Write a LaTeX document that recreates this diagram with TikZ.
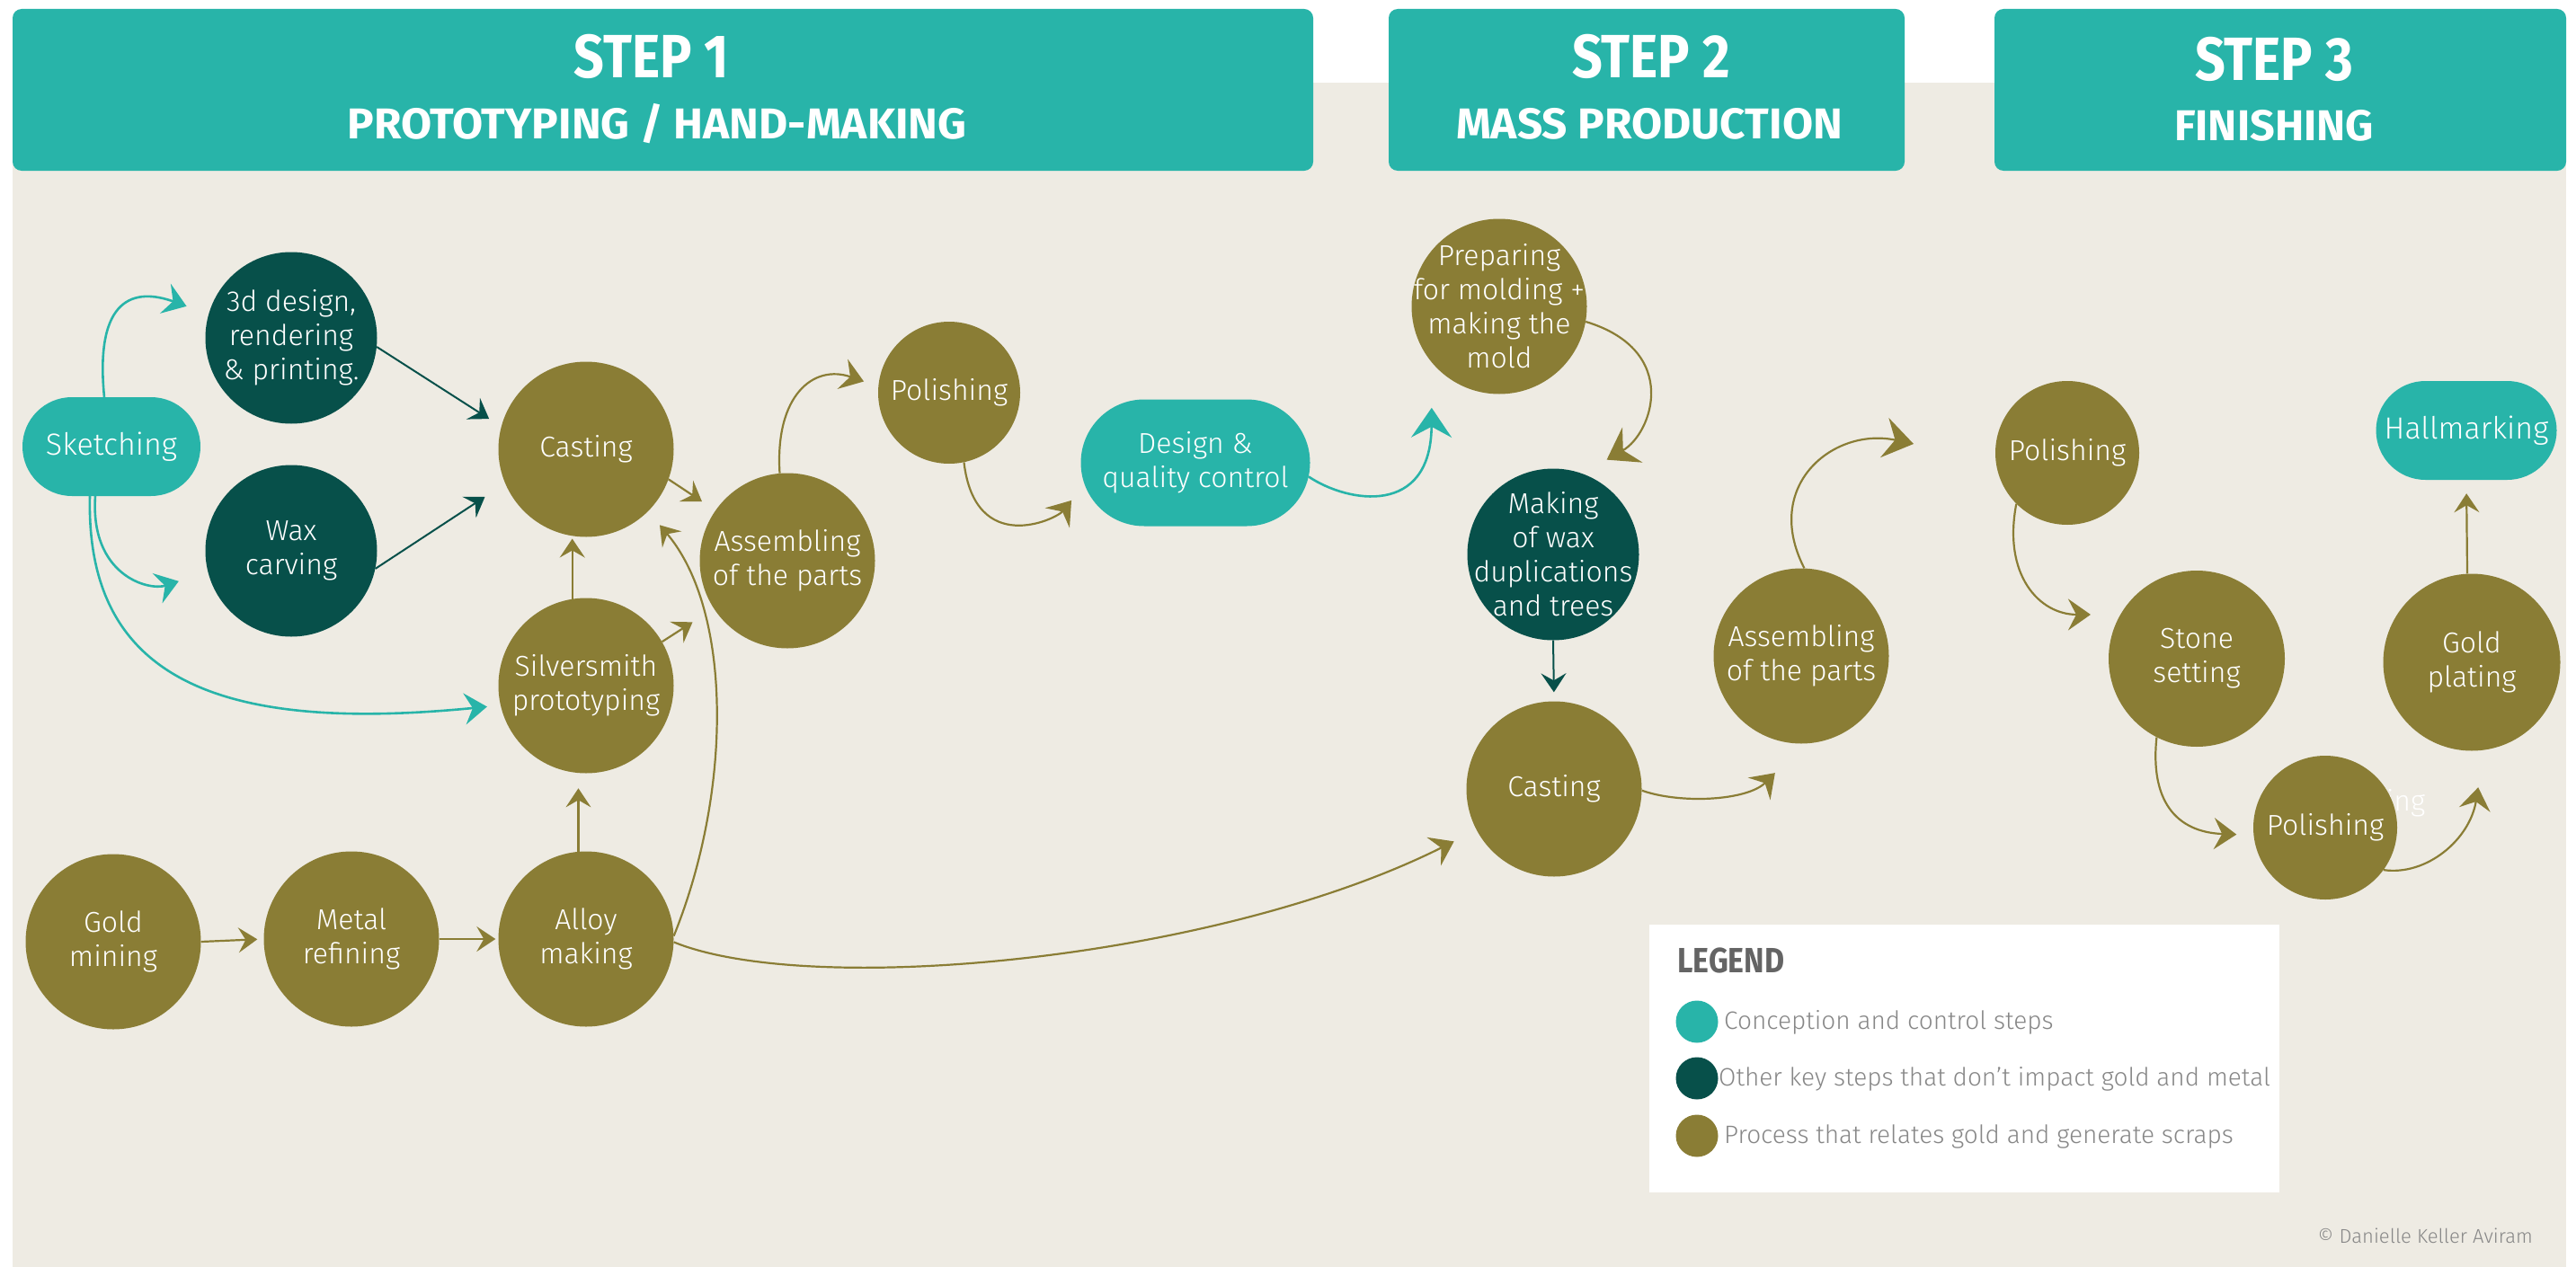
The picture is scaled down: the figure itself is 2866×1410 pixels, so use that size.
\documentclass[tikz,border=0pt]{standalone}
\usepackage{fontspec}
\setmainfont{Fira Sans}
\newfontfamily\lightfont{Fira Sans Light}
\usetikzlibrary{arrows.meta,shapes.misc}

\definecolor{cteal}{RGB}{40,180,169}
\definecolor{cdark}{RGB}{7,80,74}
\definecolor{colive}{RGB}{138,125,53}
\definecolor{cbeige}{RGB}{238,235,227}
\definecolor{cgreytext}{RGB}{135,135,135}
\definecolor{cgreyhead}{RGB}{100,100,100}

\newcommand\nodefont{\lightfont\fontsize{32}{38}\selectfont}
\newcommand\bignodefont{\lightfont\fontsize{34}{40}\selectfont}
\newcommand\legendfont{\lightfont\fontsize{28}{32}\selectfont}

\tikzset{
  stage/.style={circle, inner sep=0pt, text=white, align=center, font=\nodefont},
  goldstep/.style={stage, fill=colive, minimum size=195pt},
  smallgold/.style={stage, fill=colive, minimum size=160pt},
  keystep/.style={stage, fill=cdark, minimum size=191pt},
  tighttext/.style={inner sep=-40pt},
  ctrlstep/.style={rounded rectangle, fill=cteal, inner sep=0pt, text=white,
    align=center, font=\nodefont},
  headbox/.style={fill=cteal, rounded corners=10pt, inner sep=0pt},
  bigtitle/.style={text=white, anchor=base, font=\bfseries\fontsize{68}{68}\selectfont},
  subtitle/.style={text=white, anchor=base, font=\bfseries\fontsize{48}{48}\selectfont},
  tipS/.style={-{Stealth[length=21pt,width=28pt,inset=8pt]}},
  tipM/.style={-{Stealth[length=25pt,width=35pt,inset=9pt]}},
  tipL/.style={-{Stealth[length=33pt,width=45pt,inset=12pt]}},
  olivelink/.style={draw=colive, line width=2.2pt},
  darklink/.style={draw=cdark, line width=2pt},
  teallink/.style={draw=cteal, line width=2.6pt},
  legdot/.style={circle, minimum size=47pt, inner sep=0pt},
  legtext/.style={anchor=west, text=cgreytext, font=\legendfont, inner sep=0pt},
}

\begin{document}
\begin{tikzpicture}[x=1pt,y=-1pt]
\useasboundingbox (0,0) rectangle (2866,1410);
\fill[white] (0,0) rectangle (2866,1410);
\fill[cbeige] (14,92) rectangle (2855,1410);

% ---- step headers
\node (h1) [headbox, minimum width=1447pt, minimum height=180pt] at (737.5,100) {};
\node (h2) [headbox, minimum width=574pt, minimum height=180pt] at (1832,100) {};
\node (h3) [headbox, minimum width=636pt, minimum height=180pt] at (2537,100) {};
\node (h1a) [bigtitle] at (725,87) {\scalebox{0.87}[1]{STEP 1}};
\node (h1b) [subtitle] at (731,154) {\scalebox{1.03}[1]{PROTOTYPING / HAND-MAKING}};
\node (h2a) [bigtitle] at (1837,87) {\scalebox{0.87}[1]{STEP 2}};
\node (h2b) [subtitle] at (1835,154) {\scalebox{1.03}[1]{MASS PRODUCTION}};
\node (h3a) [bigtitle] at (2530,90) {\scalebox{0.87}[1]{STEP 3}};
\node (h3b) [subtitle] at (2530,157) {\scalebox{1.01}[1]{FINISHING}};

% ---- step 1
\node (sketch) [ctrlstep, font=\bignodefont, minimum width=198pt, minimum height=110pt] at (124,497) {Sketching};
\node (d3) [keystep, tighttext] at (324,376) {3d design,\\rendering\\\& printing.};
\node (wax) [keystep] at (324,613) {Wax\\carving};
\node (cast1) [goldstep] at (652,500) {Casting};
\node (silver) [goldstep] at (652,763) {Silversmith\\prototyping};
\node (asm1) [goldstep] at (876,624) {Assembling\\of the parts};
\node (pol1) [smallgold, minimum size=158pt] at (1056,437) {Polishing};
\node (design) [ctrlstep, minimum width=255pt, minimum height=141pt] at (1330,515) {Design \&\\quality control};
\node (mining) [goldstep] at (126,1048) {Gold\\mining};
\node (refine) [goldstep] at (391,1045) {Metal\\refining};
\node (alloy) [goldstep] at (652,1045) {Alloy\\making};

% ---- step 2
\node (prep) [goldstep, tighttext] at (1668,341) {Preparing\\for molding +\\making the\\mold};
\node (mkwax) [keystep, tighttext] at (1728,617) {Making\\of wax\\duplications\\and trees};
\node (cast2) [goldstep] at (1729,878) {Casting};
\node (asm2) [goldstep] at (2004,730) {Assembling\\of the parts};
\coordinate (asm2out) at (2129,494);

% ---- step 3
\node (pol3a) [smallgold] at (2300,504) {Polishing};
\node (hall) [ctrlstep, font=\bignodefont, minimum width=201pt, minimum height=110pt] at (2744,479) {Hallmarking};
\node (stone) [goldstep, minimum size=196pt] at (2444,733) {Stone\\setting};
\node (gold) [goldstep, minimum size=197pt] at (2750,737) {Gold\\plating};
\node (ghost) [anchor=base, text=white, font=\nodefont] at (2633,902) {Polishing};
\node (pol3b) [smallgold] at (2587,921) {Polishing};

% ---- connectors, step 1
\draw[teallink, tipM, shorten >=26pt] ([xshift=-8pt]sketch.north) .. controls (105,330) and (150,320) .. (d3.164);
\draw[teallink, tipM, shorten >=34pt] ([xshift=-18pt]sketch.south) .. controls (100,640) and (165,658) .. (wax.194);
\draw[teallink, tipM, shorten >=15pt] ([xshift=-24pt]sketch.south) .. controls (95,760) and (250,815) .. (silver.193);
\draw[darklink, tipS, shorten >=16pt] (d3.-6) -- (cast1.165);
\draw[darklink, tipS, shorten >=27pt] (wax.-12) -- (cast1.203);
\draw[olivelink, tipS, shorten >=3pt] (silver.99) -- (cast1.-99);
\draw[olivelink, tipS, shorten >=18pt] (cast1.-20) -- (asm1.145);
\draw[olivelink, tipS, shorten >=28pt] (silver.30) -- (asm1.213);
\draw[olivelink, tipS, shorten >=20pt] (alloy.2) .. controls (815,880) and (815,680) .. (cast1.-45);
\draw[olivelink, tipS, shorten >=7pt] (mining.east) -- (refine.west);
\draw[olivelink, tipS, shorten >=3pt] (refine.east) -- (alloy.west);
\draw[olivelink, tipS, shorten >=17pt] (alloy.95) -- (silver.-95);
\draw[olivelink, tipM, shorten >=17pt] (asm1.95) .. controls (862,440) and (905,405) .. (pol1.175);
\draw[olivelink, tipM, shorten >=23pt] (pol1.-78) .. controls (1085,620) and (1175,578) .. (design.191);

% ---- connectors, step 2
\draw[olivelink, tipM, shorten >=28pt] (alloy.-2) .. controls (900,1110) and (1350,1070) .. (cast2.208);
\draw[teallink, tipL, shorten >=50pt] (design.-7) .. controls (1500,560) and (1592,575) .. (prep.220);
\draw[olivelink, tipL, shorten >=31pt] (prep.-10) .. controls (1870,390) and (1839,482) .. (mkwax.70);
\draw[darklink, tipS, shorten >=10pt] (mkwax.south) -- (cast2.north);
\draw[olivelink, tipM, shorten >=46pt] (cast2.-1) .. controls (1870,895) and (1944,891) .. (asm2.-88);
\draw[olivelink, tipL] (asm2.88) .. controls (1960,540) and (2040,475) .. (asm2out);

% ---- connectors, step 3
\draw[olivelink, tipM, shorten >=33pt] (pol3a.225) .. controls (2228,640) and (2269,684) .. (stone.150);
\draw[olivelink, tipM, shorten >=19pt] (stone.243) .. controls (2392,890) and (2420,926) .. (pol3b.186);
\draw[olivelink, tipM, shorten >=42pt] (pol3b.-36) .. controls (2700,975) and (2748,934) .. (gold.-82);
\draw[olivelink, tipS, shorten >=15pt] ([xshift=-5pt]gold.north) -- (hall.south);

% ---- legend
\node (legend) [fill=white, minimum width=701pt, minimum height=298pt, inner sep=0pt] at (2185.5,1178) {};
\node (legtitle) [anchor=base west, text=cgreyhead, font=\bfseries\fontsize{39}{39}\selectfont, inner sep=0pt] at (1866,1082) {\scalebox{0.87}[1]{LEGEND}};
\node (dotA) [legdot, fill=cteal] at (1888,1137) {};
\node (dotB) [legdot, fill=cdark] at (1888,1200) {};
\node (dotC) [legdot, fill=colive] at (1888,1264) {};
\node (legA) [legtext] at (1918,1138) {Conception and control steps};
\node (legB) [legtext] at (1912,1201) {Other key steps that don’t impact gold and metal};
\node (legC) [legtext] at (1918,1265) {Process that relates gold and generate scraps};

\node (credit) [anchor=base east, text=cgreytext, font=\lightfont\fontsize{22}{22}\selectfont, inner sep=0pt] at (2818,1383) {© Danielle Keller Aviram};
\end{tikzpicture}
\end{document}
